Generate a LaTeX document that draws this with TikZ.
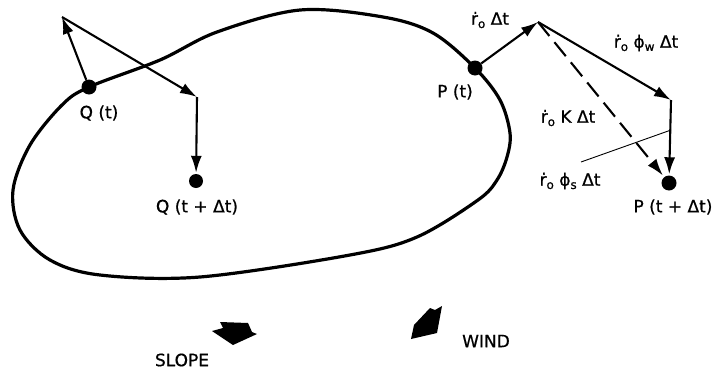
\documentclass[tikz,border=0pt]{standalone}
\usepackage{fontspec}
\setmainfont{DejaVu Sans}[BoldFont={DejaVu Sans},BoldFeatures={FakeBold=0.7}]
\usetikzlibrary{arrows.meta}
\newcommand{\myro}{ṙ\raisebox{-0.35ex}{\fontsize{12}{12}\selectfont o}}
\newcommand{\mysub}[1]{\raisebox{-0.35ex}{\fontsize{12}{12}\selectfont #1}}
\begin{document}
\begin{tikzpicture}[x=1pt,y=-1pt,
  lab/.style={font=\fontsize{17}{19}\selectfont\bfseries, inner sep=0pt},
  dotnode/.style={circle, fill=black, inner sep=0pt, minimum size=15pt},
  arr/.style={line width=2.1pt, -{Latex[length=17pt,width=11pt]}},
  dasharr/.style={arr, dash pattern=on 18pt off 8pt},
  leader/.style={line width=0.9pt},
  outline/.style={line width=3.2pt, line join=round}]
\useasboundingbox (0,0) rectangle (717,383);

% fire perimeter
\draw[outline] plot[smooth cycle, tension=0.55] coordinates {
  (89,87) (160,60) (217,32) (300,10) (383,17) (433,33) (475,68)
  (500,100) (510,133) (507,157) (497,180) (478,200) (417,237)
  (350,255) (200,277) (100,275) (50,260) (20,230) (13,190) (30,145) (62,105)};

% Q side
\node[dotnode] (Q) at (89,87) {};
\coordinate (qa) at (62,17);
\coordinate (qb) at (197,97);
\node[dotnode, minimum size=14pt] (Q2) at (196,181) {};
\draw[arr] (Q) -- (qa);
\draw[arr] (qa) -- (qb);
\draw[arr, shorten >=1pt] (qb) -- (Q2);

% P side
\node[dotnode] (P) at (475,68) {};
\coordinate (pa) at (538,22);
\coordinate (pb) at (671,100);
\node[dotnode] (P2) at (669,183) {};
\draw[arr] (P) -- (pa);
\draw[arr] (pa) -- (pb);
\draw[arr, shorten >=1pt] (pb) -- (P2);
\draw[dasharr, shorten >=2pt] (pa) -- (P2);

% labels
\node[lab] (lQ) at (99,113) {Q (t)};
\node[lab] (lQ2) at (197,207) {Q (t + Δt)};
\node[lab] (lP) at (455,92) {P (t)};
\node[lab] (lP2) at (673,207) {P (t + Δt)};
\node[lab] (l1) at (490,20) {\myro\ Δt};
\node[lab] (l2) at (646,43) {\myro\ ϕ\mysub{w} Δt};
\node[lab] (l3) at (568,118) {\myro\ K Δt};
\node[lab] (l4) at (570,181) {\myro\ ϕ\mysub{s} Δt};
\node[lab] (lS) at (182,360) {SLOPE};
\node[lab] (lW) at (486,341) {WIND};

% leader line
\coordinate (ls) at (581,162);
\coordinate (le) at (671,130);
\draw[leader] (ls) -- (le);

% slope and wind arrows
\fill (220,322) -- (248,323) -- (252,332) -- (257,334) -- (233,345) -- (212,331) -- (223,328) -- cycle;
\fill (411,339) -- (414,325) -- (430,308) -- (435,310) -- (442,306) -- (437,333) -- cycle;
\end{tikzpicture}
\end{document}
